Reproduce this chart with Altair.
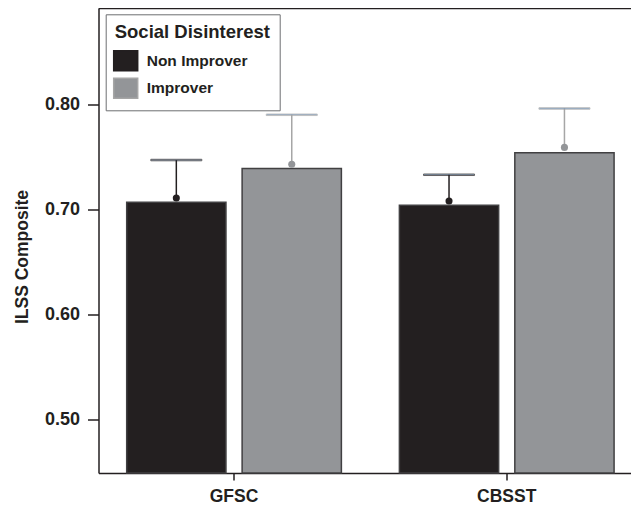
import altair as alt
import pandas as pd

categories = ["GFSC", "GFSC", "CBSST", "CBSST"]
groups = ["Non Improver", "Improver", "Non Improver", "Improver"]
bar_values = [0.707, 0.739, 0.704, 0.754]
dot_values = [0.711, 0.743, 0.708, 0.759]
upper_values = [0.747, 0.790, 0.733, 0.796]

cat_order = ["GFSC", "CBSST"]
group_order = ["Non Improver", "Improver"]
y_ticks = [0.50, 0.60, 0.70, 0.80]
y_min, y_max = 0.4496, 0.891

df = pd.DataFrame({
    "cat": categories,
    "group": groups,
    "bar": bar_values,
    "dot": dot_values,
    "upper": upper_values,
})

FONT = "Liberation Sans"
INK = "#231f20"

x_enc = alt.X(
    "cat:N",
    sort=cat_order,
    scale=alt.Scale(paddingInner=0.2127, paddingOuter=0.0827, align=0.625),
    axis=alt.Axis(
        title=None, labelAngle=0, labelFont=FONT, labelFontSize=17.5,
        labelFontWeight="bold", labelColor=INK, tickSize=7, tickWidth=1.5,
        tickColor=INK, domainColor=INK, domainWidth=1.5, labelPadding=7,
    ),
)
xoff = alt.XOffset(
    "group:N", sort=group_order,
    scale=alt.Scale(paddingInner=0.14, paddingOuter=0),
)
y_scale = alt.Scale(domain=[y_min, y_max], zero=False, nice=False)
y_axis = alt.Axis(
    values=y_ticks, format=".2f", grid=False, labelFont=FONT,
    labelFontSize=18, labelFontWeight="bold", labelColor=INK,
    tickSize=11, tickWidth=1.5, tickColor=INK, domainColor=INK,
    domainWidth=1.5, labelPadding=8, title="ILSS Composite",
    titleFont=FONT, titleFontSize=17.5, titleFontWeight="bold",
    titleColor=INK, titleX=-71, titleY=248, titleAngle=-90,
    titleBaseline="alphabetic", titleAlign="center",
)

legend = alt.Legend(
    title="Social Disinterest", orient="none", legendX=7.2, legendY=5.8,
    direction="vertical", padding=9, strokeColor="#6d6e71",
    fillColor="white", titleFont=FONT, titleFontSize=18.5,
    titleFontWeight="bold", titleColor=INK, titlePadding=8,
    labelFont=FONT, labelFontSize=15.5, labelFontWeight="bold",
    labelColor=INK, symbolType="M-1.2,-1H1.2V1H-1.2Z", symbolSize=400,
    symbolStrokeColor="#414042", symbolStrokeWidth=1.5, labelOffset=10,
    rowPadding=1.5, symbolOpacity=1,
)

base = alt.Chart(df)

bars = base.mark_bar(stroke="#414042", strokeWidth=1.5).encode(
    x=x_enc,
    xOffset=xoff,
    y=alt.Y("bar:Q", scale=y_scale, axis=y_axis),
    y2=alt.datum(y_min),
    color=alt.Color(
        "group:N", sort=group_order,
        scale=alt.Scale(domain=group_order, range=[INK, "#939598"]),
        legend=legend,
    ),
)

stroke_enc = alt.Stroke(
    "group:N", sort=group_order,
    scale=alt.Scale(domain=group_order, range=[INK, "#a6a6a6"]),
    legend=None,
)

stems = base.mark_rule(strokeWidth=1.5).encode(
    x=x_enc, xOffset=xoff, y="dot:Q", y2="upper:Q", stroke=stroke_enc,
)
caps = base.mark_tick(thickness=1.5, size=51).encode(
    x=x_enc, xOffset=xoff, y="upper:Q", stroke=stroke_enc,
)
dots = base.mark_point(filled=True, size=50, opacity=1).encode(
    x=x_enc, xOffset=xoff, y="dot:Q",
    fill=alt.Fill(
        "group:N", sort=group_order,
        scale=alt.Scale(domain=group_order, range=[INK, "#939598"]),
        legend=None,
    ),
)

top_line = alt.Chart(pd.DataFrame({"v": [y_max]})).mark_rule(
    color=INK, strokeWidth=1.5
).encode(y=alt.datum(y_max))

chart = alt.layer(bars, stems, caps, dots, top_line).properties(
    width=532.5,
    height=464.5,
    autosize=alt.AutoSizeParams(type="none"),
    padding={"left": 90.5, "top": 0.5, "right": 0, "bottom": 34},
    background="white",
).configure_view(stroke=None)

chart.save("out.html", embed_options={"renderer": "svg", "actions": False})
